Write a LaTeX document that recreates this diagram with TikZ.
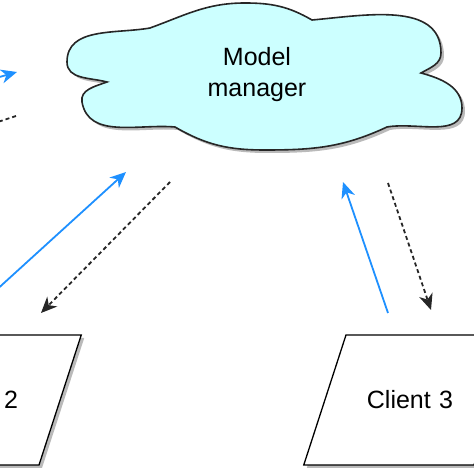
\documentclass[tikz,border=0pt]{standalone}
\usepackage{fontspec}
\setmainfont{Liberation Sans}
\usetikzlibrary{shapes.geometric,shadows,arrows.meta}
\definecolor{cloudfill}{RGB}{204,255,255}
\definecolor{sendblue}{RGB}{30,144,255}
\tikzset{
	boxshadow/.style={drop shadow={shadow xshift=3pt, shadow yshift=-3pt, fill=black!45, opacity=0.6}},
	client/.style={trapezium, trapezium left angle=72, trapezium right angle=108,
		draw, line width=1.3pt, fill=white,
		text width=100pt, align=center, text height=18pt, text depth=0pt,
		inner xsep=14pt, inner ysep=56pt,
		font=\fontsize{25}{30}\selectfont, boxshadow},
	upload/.style={sendblue, line width=1.8pt, -{Stealth[length=16pt, width=14pt, inset=5pt]}},
	download/.style={black!85, line width=1.8pt, dash pattern=on 4pt off 3pt,
		-{Stealth[length=16pt, width=14pt, inset=5pt]}}
}
\begin{document}
\begin{tikzpicture}[x=1pt, y=1pt]
	\useasboundingbox (0,0) rectangle (474,474);
	\clip (0,0) rectangle (474,474);

	% Draw the cloud
	\path[draw=black!85, line width=1.6pt, fill=cloudfill, boxshadow]
		(150,446) to[out=190,in=90] (67,412) to[out=-90,in=165] (107,392)
		to[out=200,in=100] (82,372) to[out=-80,in=175] (175,347)
		to[out=-30,in=180] (265,324) to[out=0,in=-155] (387,347)
		to[out=10,in=-90] (462,366) to[out=90,in=-15] (421,401)
		to[out=30,in=-90] (441,421) to[out=90,in=5] (312,454)
		to[out=150,in=0] (245,471) to[out=180,in=20] (150,446) -- cycle;
	\node[align=center, font=\fontsize{25}{31}\selectfont] (mm) at (257,399) {Model\\manager};

	% Draw the clients
	\node[client] (c2) at (-25,74) {Client 2};
	\node[client] (c3) at (410,74) {Client 3};

	% End points of the arrows
	\coordinate (c1up) at (-60,380);
	\coordinate (mmup1) at (17,402);
	\coordinate (mmdown1) at (16,358);
	\coordinate (c1down) at (-60,333);
	\coordinate (c2up) at (-52,140);
	\coordinate (mmup2) at (126,302);
	\coordinate (mmdown2) at (170,292);
	\coordinate (c2down) at (41,161);
	\coordinate (c3up) at (388,161);
	\coordinate (mmup3) at (343,292);
	\coordinate (mmdown3) at (388,291);
	\coordinate (c3down) at (431,164);

	% Draw the arrows
	\draw[upload] (c1up) -- (mmup1);
	\draw[download] (mmdown1) -- (c1down);
	\draw[upload] (c2up) -- (mmup2);
	\draw[download] (mmdown2) -- (c2down);
	\draw[upload] (c3up) -- (mmup3);
	\draw[download] (mmdown3) -- (c3down);
\end{tikzpicture}
\end{document}
